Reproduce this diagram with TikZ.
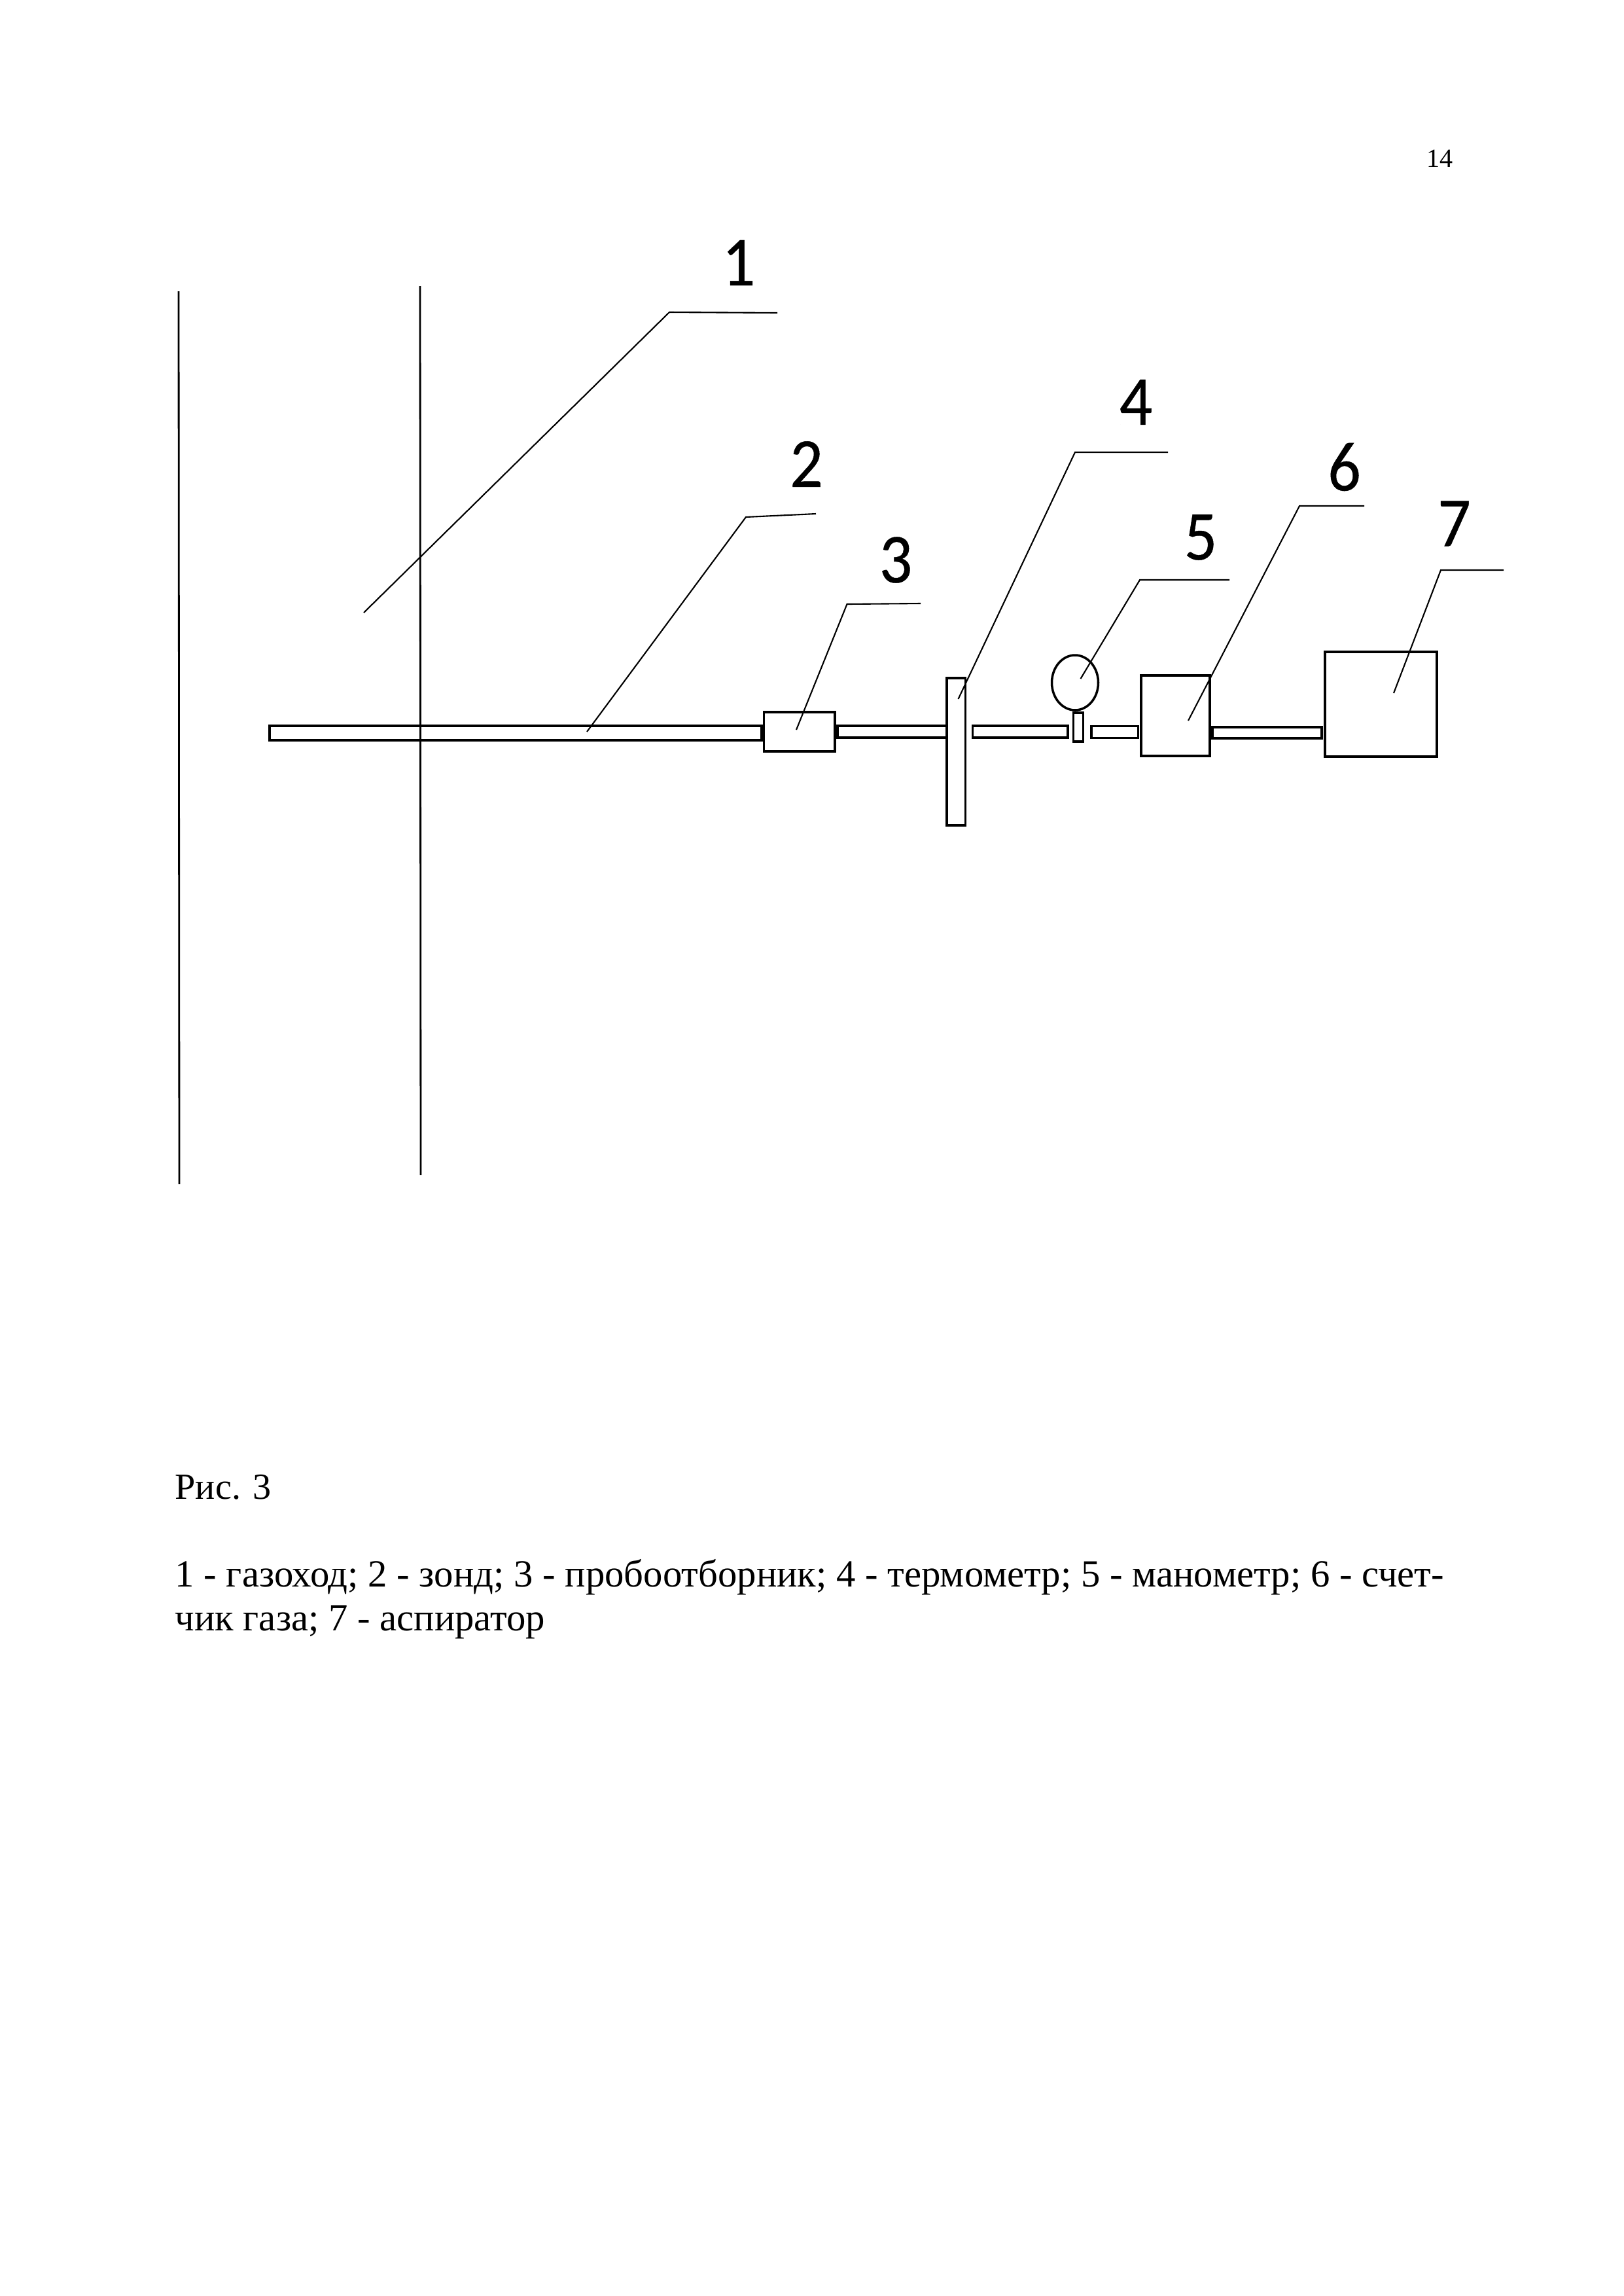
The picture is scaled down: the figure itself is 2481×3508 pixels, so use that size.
\documentclass[tikz,border=0pt]{standalone}
\usepackage{fontspec}
\setmainfont{Liberation Serif}
\newfontfamily\numfont[FakeStretch=0.93,FakeBold=0.4]{Carlito}
\usepackage{tikz}
\begin{document}
\begin{tikzpicture}[x=0.01cm,y=0.01cm]
\tikzstyle{every node}+=[inner sep=0pt]
\tikzstyle{part}=[draw=black, line width=1pt, outer sep=0pt]
\tikzstyle{leader}=[black, line width=0.6pt]
\tikzstyle{wall}=[black, line width=0.8pt]
\tikzstyle{num}=[font=\numfont\fontsize{30.5}{32}\selectfont]
\tikzstyle{txt}=[anchor=base west, font=\fontsize{16.7}{19}\selectfont]
\useasboundingbox (0,0) rectangle (2481,-3508);
\node [txt, anchor=base east] (pagenum) at (2221,-255) {\fontsize{11.4}{13}\selectfont 14};
\coordinate (wall1a) at (273,-445);
\coordinate (wall1b) at (274,-1809);
\coordinate (wall2a) at (642,-437);
\coordinate (wall2b) at (643,-1795);
\draw [wall] (wall1a) -- (wall1b);
\draw [wall] (wall2a) -- (wall2b);
\node [part, minimum width=7.52cm, minimum height=0.22cm] (probe) at (788,-1120) {};
\node [part, minimum width=1.085cm, minimum height=0.60cm] (sampler) at (1221.75,-1118) {};
\node [part, minimum width=1.67cm, minimum height=0.18cm] (tube34) at (1363.5,-1118) {};
\node [part, minimum width=0.285cm, minimum height=2.25cm] (thermo) at (1461.25,-1148.5) {};
\node [part, minimum width=1.455cm, minimum height=0.18cm] (tube45) at (1559.25,-1118) {};
\node [part, minimum width=0.15cm, minimum height=0.44cm] (stem) at (1648,-1111) {};
\node [part, minimum width=0.715cm, minimum height=0.18cm] (tube56) at (1703.75,-1118.5) {};
\node [part, minimum width=1.05cm, minimum height=1.23cm] (meter) at (1796.5,-1093.5) {};
\node [part, minimum width=1.67cm, minimum height=0.17cm] (tube67) at (1936.5,-1119.5) {};
\node [part, minimum width=1.71cm, minimum height=1.60cm] (aspirator) at (2110.5,-1076) {};
\draw [part] (1643,-1043) ellipse (35.5 and 42);
\coordinate (tip1) at (556,-936);
\coordinate (bend1) at (1023,-477);
\coordinate (end1) at (1188,-478);
\coordinate (tip2) at (897,-1118);
\coordinate (bend2) at (1140,-790);
\coordinate (end2) at (1247,-785);
\coordinate (tip3) at (1217,-1115);
\coordinate (bend3) at (1294.5,-923);
\coordinate (end3) at (1407,-922);
\coordinate (tip4) at (1464.5,-1068);
\coordinate (bend4) at (1643,-691);
\coordinate (end4) at (1785,-691);
\coordinate (tip5) at (1651.5,-1037);
\coordinate (bend5) at (1742,-886);
\coordinate (end5) at (1879,-886);
\coordinate (tip6) at (1816,-1101);
\coordinate (bend6) at (1986,-773);
\coordinate (end6) at (2085,-773);
\coordinate (tip7) at (2130,-1059);
\coordinate (bend7) at (2202,-871);
\coordinate (end7) at (2298,-871);
\draw [leader] (tip1) -- (bend1) -- (end1);
\draw [leader] (tip2) -- (bend2) -- (end2);
\draw [leader] (tip3) -- (bend3) -- (end3);
\draw [leader] (tip4) -- (bend4) -- (end4);
\draw [leader] (tip5) -- (bend5) -- (end5);
\draw [leader] (tip6) -- (bend6) -- (end6);
\draw [leader] (tip7) -- (bend7) -- (end7);
\node [num] (num1) at (1129,-401.5) {1};
\node [num] (num2) at (1232.5,-709) {2};
\node [num] (num3) at (1369,-855.5) {3};
\node [num] (num4) at (1736,-614.5) {4};
\node [num] (num5) at (1835,-821) {5};
\node [num] (num6) at (2054.5,-713.5) {6};
\node [num] (num7) at (2222.5,-800) {7};
\node [txt, font=\fontsize{16}{19}\selectfont] (caption) at (267,-2290) {Рис. 3};
\node [txt] (legend1) at (267,-2424) {1 - газоход; 2 - зонд; 3 - пробоотборник; 4 - термометр; 5 - манометр; 6 - счет-};
\node [txt] (legend2) at (267,-2491) {чик газа; 7 - аспиратор};
\end{tikzpicture}
\end{document}
